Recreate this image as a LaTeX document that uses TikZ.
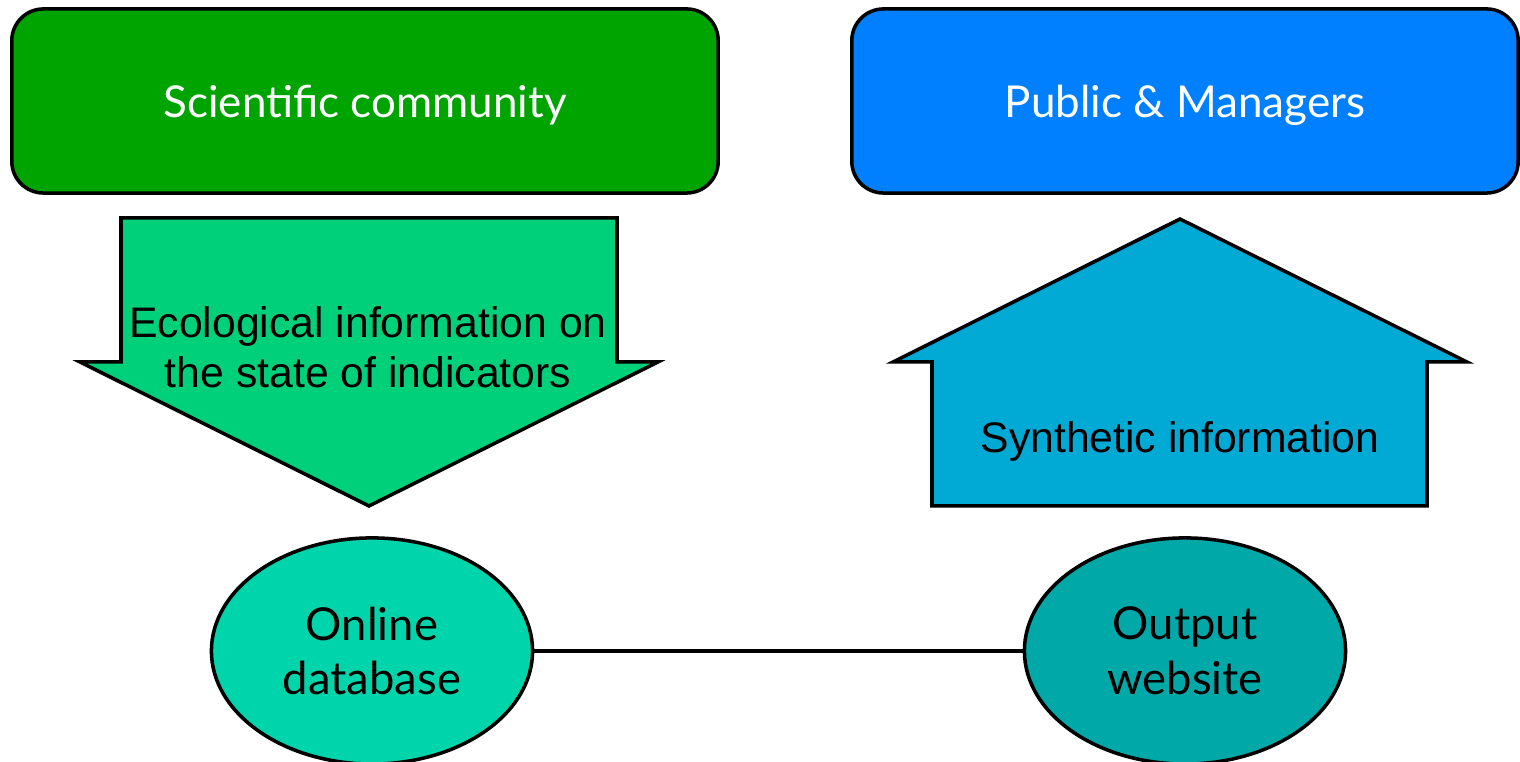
\documentclass[tikz,border=0pt]{standalone}
\usepackage{fontspec}
\setmainfont{Lato}
\newfontfamily\arialfont{Liberation Sans}
\usetikzlibrary{positioning,shapes.geometric}
\definecolor{sciencegreen}{HTML}{00A400}
\definecolor{publicblue}{HTML}{0080FF}
\definecolor{downgreen}{HTML}{00D07A}
\definecolor{upblue}{HTML}{00AAD5}
\definecolor{dbteal}{HTML}{00D4AA}
\definecolor{webteal}{HTML}{00A8A8}

\tikzset{
  groupbox/.style={draw=black,line width=1pt,rounded corners=9pt,minimum width=7.06cm,minimum height=1.84cm,inner sep=0pt,text depth=0pt,text=white,font=\fontsize{12.5}{15}\selectfont},
  flowtext/.style={align=center,text=black,font=\arialfont\fontsize{12.15}{14.2}\selectfont},
  toolnode/.style={draw=black,line width=1pt,ellipse,minimum width=3.21cm,minimum height=2.26cm,inner sep=0pt,align=center,font=\fontsize{12.9}{15.6}\selectfont}
}

\begin{document}
\begin{tikzpicture}[x=0.01cm,y=-0.01cm]
    \useasboundingbox (0,0) rectangle (1520,762);

    % Audience boxes
    \node[groupbox,fill=sciencegreen] (science) at (365,101) {Scientific community};
    \node[groupbox,fill=publicblue,minimum width=6.66cm] (public) at (1185,101) {Public \& Managers};

    % Downward arrow
    \draw[fill=downgreen,line width=1pt] (121,218) -- (617,218) -- (617,362) -- (658,362) -- (369,506) -- (80,362) -- (121,362) -- cycle;
    \node[flowtext] (ecoinfo) at (368,347) {Ecological information on\\the state of indicators};

    % Upward arrow
    \draw[fill=upblue,line width=1pt] (932,506) -- (1427,506) -- (1427,362) -- (1467,362) -- (1180,219) -- (893,362) -- (932,362) -- cycle;
    \node[flowtext] (syninfo) at (1180,441) {Synthetic information};

    % Tools
    \node[toolnode,fill=dbteal] (database) at (372,651) {Online\\database};
    \node[toolnode,fill=webteal] (website) at (1185,651) {Output\\website};
    \draw[line width=1pt] (database) -- (website);
\end{tikzpicture}
\end{document}
